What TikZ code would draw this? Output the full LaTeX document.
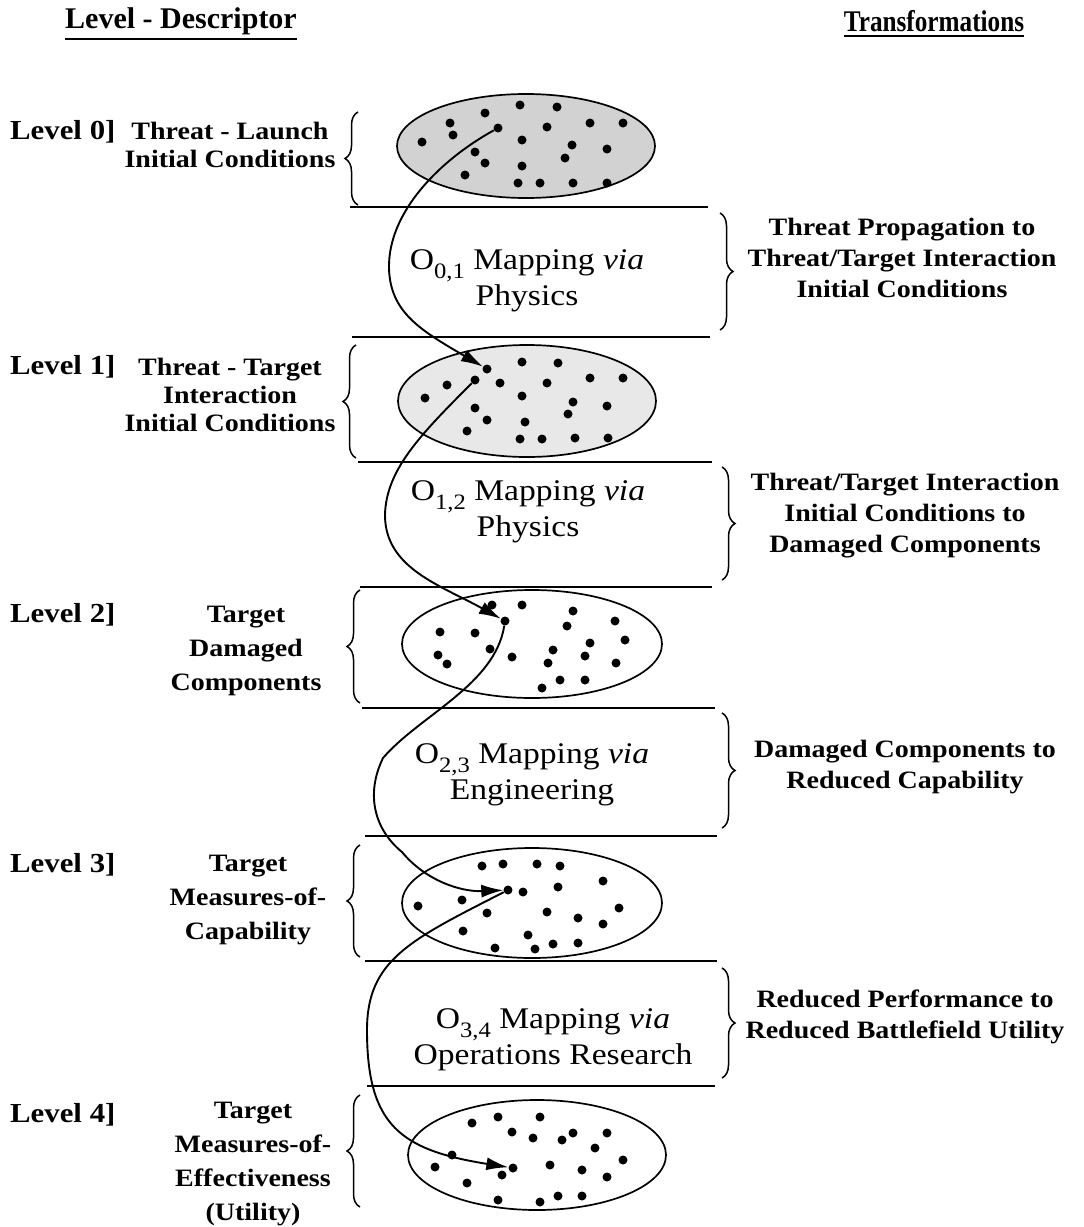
\documentclass[tikz,border=0pt]{standalone}
\usepackage{fontspec}
\setmainfont{Liberation Serif}
\newfontfamily\wfont[FakeStretch=1.12]{Liberation Serif}
\newfontfamily\nfont[FakeStretch=0.84]{Liberation Serif}
\usetikzlibrary{decorations.pathreplacing,arrows.meta,shapes.geometric}
\newcommand{\Osub}[1]{O\raisebox{-0.28em}{\fontsize{22}{22}\selectfont #1}}
\begin{document}
\begin{tikzpicture}[x=1pt,y=-1pt,
  lab/.style={font={\wfont\bfseries\fontsize{25}{28}\selectfont}, align=center, inner sep=0pt},
  lvl/.style={lab, anchor=west, font={\wfont\bfseries\fontsize{27.5}{28}\selectfont}},
  labw/.style={lab, font={\wfont\bfseries\fontsize{25}{34}\selectfont}},
  labr/.style={lab, font={\wfont\bfseries\fontsize{25}{31}\selectfont}},
  head/.style={font={\bfseries\fontsize{30}{30}\selectfont}, inner sep=0pt},
  maptext/.style={font={\wfont\fontsize{30}{36}\selectfont}, align=center, inner sep=0pt},
  sep/.style={line width=2pt},
  ell/.style={ellipse, draw, line width=1.7pt, inner sep=0pt},
  dot/.style={circle, fill=black, inner sep=0pt, minimum size=9pt},
  lbrace/.style={decorate, decoration={brace, amplitude=13pt}, line width=1.5pt},
  flow/.style={line width=1.9pt, -{Latex[length=22pt,width=13pt]}}
]
\useasboundingbox (0,0) rectangle (1084,1227);
\fill[white] (0,0) rectangle (1084,1227);

% headers
\node[head] (h1) at (181,21) {Level - Descriptor};
\node[head, font={\nfont\bfseries\fontsize{30}{30}\selectfont}] (h2) at (934,21) {Transformations};
\draw[line width=1.7pt] (h1.south west) ++(0,4) -- ([yshift=-4pt]h1.south east);
\draw[line width=1.7pt] (h2.south west) ++(0,4) -- ([yshift=-4pt]h2.south east);

% separators
\foreach \y/\a/\b in {207/350/708, 337/352/710, 462/358/712, 587/360/712, 708/362/715, 836/365/717, 961/365/717, 1086/367/715}
  \draw[sep] (\a,\y) -- (\b,\y);

% ellipses
\node[ell, fill=gray!35, minimum width=258pt, minimum height=104pt] (E0) at (526,146) {};
\node[ell, fill=gray!18, minimum width=258pt, minimum height=112pt] (E1) at (527,401) {};
\node[ell, minimum width=260pt, minimum height=108pt] (E2) at (532,644) {};
\node[ell, minimum width=260pt, minimum height=110pt] (E3) at (532,903) {};
\node[ell, minimum width=258pt, minimum height=110pt] (E4) at (537,1155) {};

% dots
\foreach \p in {(485,113),(520,105),(557,107),(450,123),(547,127),(590,123),(623,123),(453,135),(522,140),(422,142),(572,145),(607,149),(475,152),(485,163),(522,166),(565,158),(465,175),(518,183),(540,183),(573,183),(607,183)}
  \fill \p circle[radius=4.5pt];
\node[dot] (s0) at (498,128) {};
\foreach \p in {(522,362),(558,363),(447,385),(500,383),(547,383),(590,378),(623,378),(425,398),(522,396),(573,402),(607,406),(475,408),(568,414),(487,420),(525,422),(467,431),(520,439),(542,439),(575,438),(608,438)}
  \fill \p circle[radius=4.5pt];
\node[dot] (e1) at (487,369) {};
\node[dot] (s1) at (475,380) {};
\foreach \p in {(492,605),(522,605),(573,611),(567,626),(615,621),(440,632),(475,633),(625,640),(590,643),(490,649),(553,650),(438,655),(512,657),(585,656),(447,664),(548,663),(616,663),(560,680),(585,680),(542,688)}
  \fill \p circle[radius=4.5pt];
\node[dot] (e2) at (505,621) {};
\foreach \p in {(482,866),(503,864),(537,864),(560,866),(603,881),(523,892),(558,887),(462,900),(418,906),(487,913),(547,912),(619,908),(578,918),(603,924),(463,931),(528,935),(495,948),(535,949),(553,944),(578,943)}
  \fill \p circle[radius=4.5pt];
\node[dot] (e3) at (508,890) {};
\foreach \p in {(472,1123),(498,1117),(540,1117),(512,1132),(533,1138),(562,1140),(573,1133),(607,1133),(595,1148),(623,1160),(452,1155),(435,1167),(502,1175),(550,1165),(582,1170),(607,1177),(467,1183),(498,1200),(540,1202),(558,1196),(582,1196)}
  \fill \p circle[radius=4.5pt];
\node[dot] (e4) at (513,1168) {};

% waypoints
\coordinate (w0) at (389,268);
\coordinate (w1) at (385,515);
\coordinate (w2a) at (383,758);
\coordinate (w2b) at (402,852);
\coordinate (w3) at (367,1030);

% arrows
\draw[flow] (s0) .. controls (440,160) and (388,212) .. (w0) .. controls (390,312) and (420,330) .. (e1);
\draw[flow] (s1) .. controls (420,435) and (386,470) .. (w1) .. controls (385,568) and (440,585) .. (e2);
\draw[flow] (e2) .. controls (495,685) and (420,715) .. (w2a) .. controls (365,795) and (375,830) .. (w2b) .. controls (425,880) and (460,892) .. (e3);
\draw[flow] (e3) .. controls (410,940) and (367,960) .. (w3) .. controls (367,1125) and (400,1150) .. (e4);

% left braces
\draw[lbrace] (358,205) -- (358,112);
\draw[lbrace] (356,458) -- (356,345);
\draw[lbrace] (360,703) -- (360,590);
\draw[lbrace] (360,957) -- (360,845);
\draw[lbrace] (360,1207) -- (360,1095);
% right braces
\draw[lbrace] (720,213) -- (720,330);
\draw[lbrace] (722,467) -- (722,580);
\draw[lbrace] (722,713) -- (722,828);
\draw[lbrace] (722,968) -- (722,1078);

% level labels
\node[lvl] (l0) at (10,132) {Level 0]};
\node[lab] (d0) at (230,145) {Threat - Launch\\Initial Conditions};
\node[lvl] (l1) at (10,367) {Level 1]};
\node[lab] (d1) at (230,395) {Threat - Target\\Interaction\\Initial Conditions};
\node[lvl] (l2) at (10,615) {Level 2]};
\node[labw] (d2) at (246,651) {Target\\Damaged\\Components};
\node[lvl] (l3) at (10,865) {Level 3]};
\node[labw] (d3) at (248,900) {Target\\Measures-of-\\Capability};
\node[lvl] (l4) at (10,1115) {Level 4]};
\node[labw] (d4) at (253,1164) {Target\\Measures-of-\\Effectiveness\\(Utility)};

% mapping texts
\node[maptext] (m0) at (527,281) {\Osub{0,1} Mapping \textit{via}\\Physics};
\node[maptext] (m1) at (528,512) {\Osub{1,2} Mapping \textit{via}\\Physics};
\node[maptext] (m2) at (532,775) {\Osub{2,3} Mapping \textit{via}\\Engineering};
\node[maptext] (m3) at (553,1040) {\Osub{3,4} Mapping \textit{via}\\Operations Research};

% transformation texts
\node[labr] (t0) at (902,258) {Threat Propagation to\\Threat/Target Interaction\\Initial Conditions};
\node[labr] (t1) at (905,516) {Threat/Target Interaction\\Initial Conditions to\\Damaged Components};
\node[labr] (t2) at (905,767) {Damaged Components to\\Reduced Capability};
\node[labr] (t3) at (905,1017) {Reduced Performance to\\Reduced Battlefield Utility};
\end{tikzpicture}
\end{document}
